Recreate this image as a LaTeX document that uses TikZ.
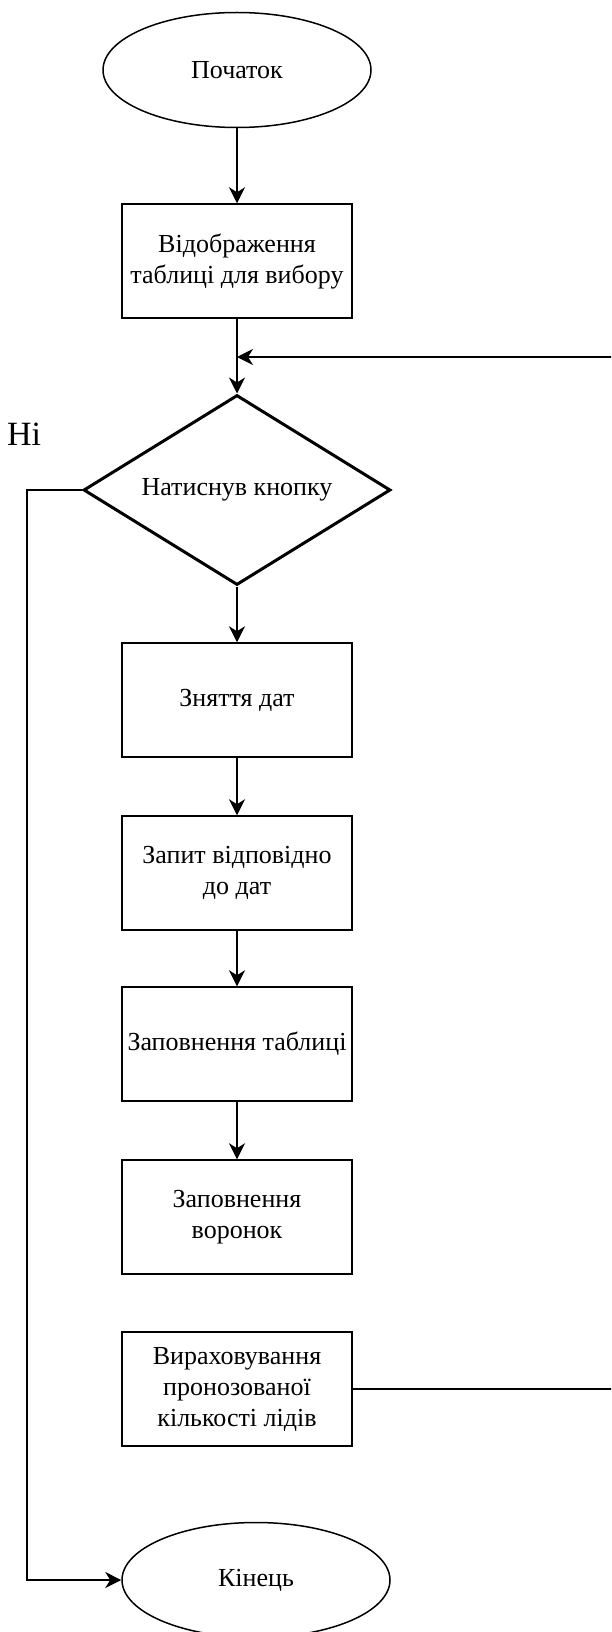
\documentclass[tikz,border=0pt]{standalone}
\usepackage{fontspec}
\setmainfont{Liberation Serif}
\usetikzlibrary{shapes.geometric,arrows.meta}
\tikzset{
  blok/.style={draw, line width=1.5pt, minimum width=230pt, minimum height=114pt, inner sep=0pt, align=center, font=\fontsize{26}{31}\selectfont},
  kraj/.style={draw, ellipse, line width=1.5pt, minimum width=268pt, minimum height=115pt, inner sep=0pt, font=\fontsize{26}{31}\selectfont},
  umova/.style={draw, diamond, aspect=1.6, line width=3pt, minimum width=307pt, minimum height=190pt, inner sep=0pt, font=\fontsize{26}{31}\selectfont},
  strilka/.style={-{Stealth[length=16pt,width=16pt,inset=5pt]}, line width=1.5pt}
}
\begin{document}
\begin{tikzpicture}[x=1pt,y=-1pt]
\useasboundingbox (0,0) rectangle (611,1632);
\clip (0,0) rectangle (611,1632);
\node[kraj] (pochatok) at (237,70) {Початок};
\node[blok] (vidobr) at (237,261) {Відображення\\таблиці для вибору};
\node[umova] (natysnuv) at (237,490) {Натиснув кнопку};
\node[blok] (znyattya) at (237,700) {Зняття дат};
\node[blok] (zapyt) at (237,873) {Запит відповідно\\до дат};
\node[blok] (tablytsya) at (237,1044) {Заповнення таблиці};
\node[blok] (voronky) at (237,1217) {Заповнення\\воронок};
\node[blok] (lidy) at (237,1389) {Вираховування\\пронозованої\\кількості лідів};
\node[kraj] (kinets) at (256,1580) {Кінець};
\node[font=\fontsize{34}{40}\selectfont] (ni) at (24,434) {Ні};
\coordinate (zlyttya) at (237,357);
\draw[strilka] (pochatok) -- (vidobr);
\draw[line width=1.5pt] (vidobr) -- (zlyttya);
\draw[strilka] (zlyttya) -- (natysnuv);
\draw[strilka] (natysnuv) -- (znyattya);
\draw[strilka] (znyattya) -- (zapyt);
\draw[strilka] (zapyt) -- (tablytsya);
\draw[strilka] (tablytsya) -- (voronky);
\draw[strilka] (lidy.east) -- (640,1389) |- (zlyttya);
\draw[strilka] (natysnuv.west) -| (27,1580) -- (kinets.west);
\end{tikzpicture}
\end{document}
